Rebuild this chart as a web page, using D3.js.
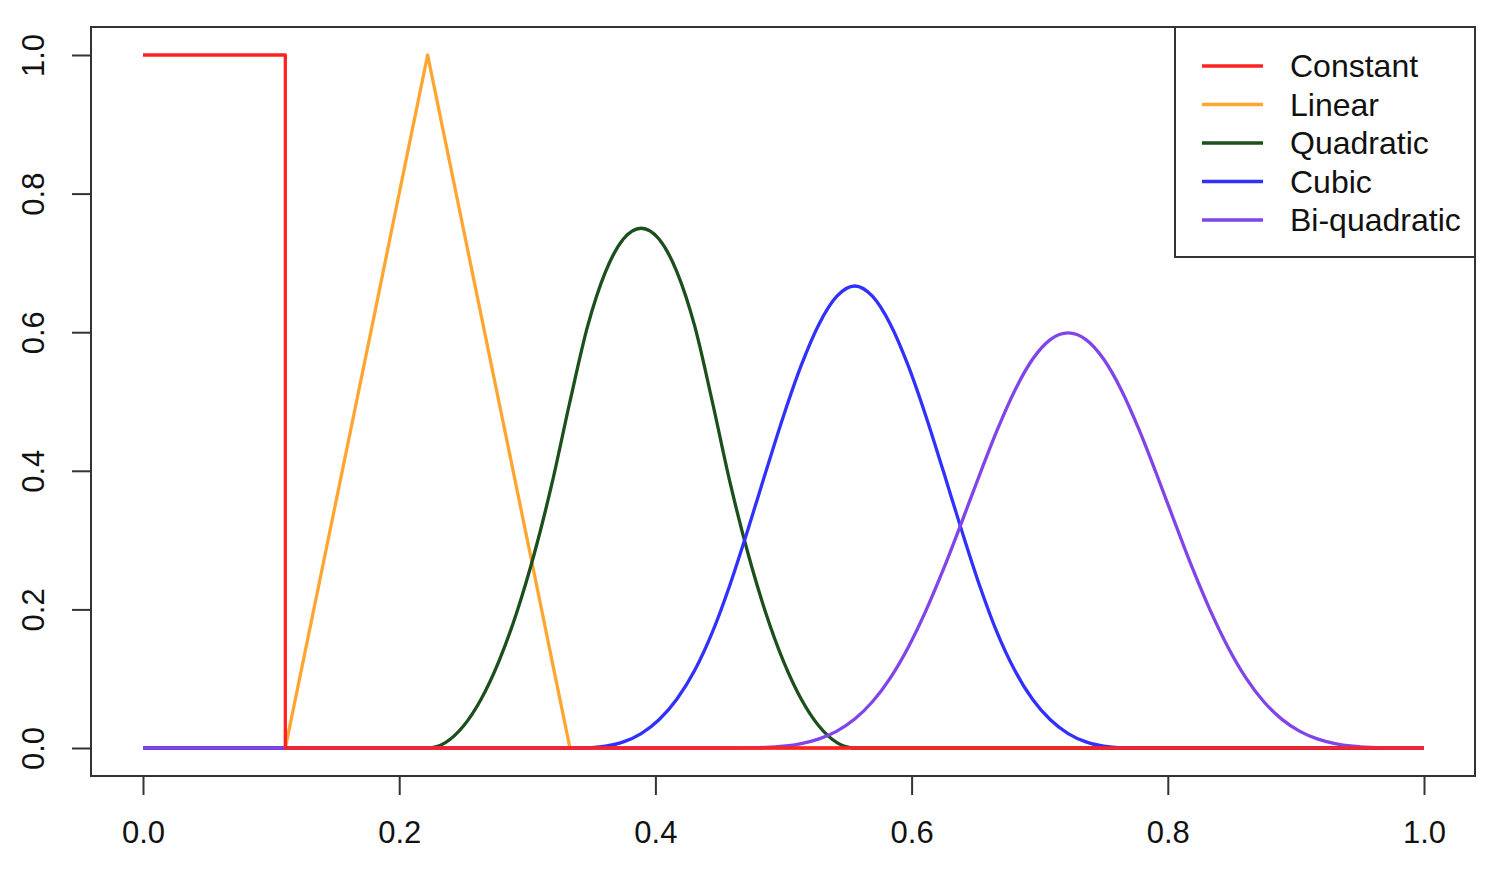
<!DOCTYPE html>
<html>
<head>
<meta charset="utf-8">
<script src="https://cdn.jsdelivr.net/npm/d3@7"></script>
<style>
  html, body { margin: 0; padding: 0; background: #fff; }
  svg { display: block; }
  text { font-family: "Liberation Sans", Arial, sans-serif; fill: #111; }
</style>
</head>
<body>
<svg id="chart" width="1502" height="882"></svg>
<script>
// ---- data (B-spline basis functions, read at x steps of 1/72) ----
const xGrid = [
  0.0000, 0.0139, 0.0278, 0.0417, 0.0556, 0.0694, 0.0833, 0.0972, 0.1111, 0.1250,
  0.1389, 0.1528, 0.1667, 0.1806, 0.1944, 0.2083, 0.2222, 0.2361, 0.2500, 0.2639,
  0.2778, 0.2917, 0.3056, 0.3194, 0.3333, 0.3472, 0.3611, 0.3750, 0.3889, 0.4028,
  0.4167, 0.4306, 0.4444, 0.4583, 0.4722, 0.4861, 0.5000, 0.5139, 0.5278, 0.5417,
  0.5556, 0.5694, 0.5833, 0.5972, 0.6111, 0.6250, 0.6389, 0.6528, 0.6667, 0.6806,
  0.6944, 0.7083, 0.7222, 0.7361, 0.7500, 0.7639, 0.7778, 0.7917, 0.8056, 0.8194,
  0.8333, 0.8472, 0.8611, 0.8750, 0.8889, 0.9028, 0.9167, 0.9306, 0.9444, 0.9583,
  0.9722, 0.9861, 1.0000
];
const constantVals = [
  1, 1, 1, 1, 1, 1, 1, 1, 0, 0,
  0, 0, 0, 0, 0, 0, 0, 0, 0, 0,
  0, 0, 0, 0, 0, 0, 0, 0, 0, 0,
  0, 0, 0, 0, 0, 0, 0, 0, 0, 0,
  0, 0, 0, 0, 0, 0, 0, 0, 0, 0,
  0, 0, 0, 0, 0, 0, 0, 0, 0, 0,
  0, 0, 0, 0, 0, 0, 0, 0, 0, 0,
  0, 0, 0
];
const linearVals = [
  0, 0, 0, 0, 0, 0, 0, 0, 0, 0.125,
  0.25, 0.375, 0.5, 0.625, 0.75, 0.875, 1, 0.875, 0.75, 0.625,
  0.5, 0.375, 0.25, 0.125, 0, 0, 0, 0, 0, 0,
  0, 0, 0, 0, 0, 0, 0, 0, 0, 0,
  0, 0, 0, 0, 0, 0, 0, 0, 0, 0,
  0, 0, 0, 0, 0, 0, 0, 0, 0, 0,
  0, 0, 0, 0, 0, 0, 0, 0, 0, 0,
  0, 0, 0
];
const quadraticVals = [
  0, 0, 0, 0, 0, 0, 0, 0, 0, 0,
  0, 0, 0, 0, 0, 0, 0, 0.0078, 0.0313, 0.0703,
  0.125, 0.1953, 0.2813, 0.3828, 0.5, 0.6094, 0.6875, 0.7344, 0.75, 0.7344,
  0.6875, 0.6094, 0.5, 0.3828, 0.2813, 0.1953, 0.125, 0.0703, 0.0313, 0.0078,
  0, 0, 0, 0, 0, 0, 0, 0, 0, 0,
  0, 0, 0, 0, 0, 0, 0, 0, 0, 0,
  0, 0, 0, 0, 0, 0, 0, 0, 0, 0,
  0, 0, 0
];
const cubicVals = [
  0, 0, 0, 0, 0, 0, 0, 0, 0, 0,
  0, 0, 0, 0, 0, 0, 0, 0, 0, 0,
  0, 0, 0, 0, 0, 0.0003, 0.0026, 0.0088, 0.0208, 0.0407,
  0.0703, 0.1117, 0.1667, 0.2360, 0.3151, 0.3981, 0.4792, 0.5524, 0.6120, 0.6520,
  0.6667, 0.6520, 0.6120, 0.5524, 0.4792, 0.3981, 0.3151, 0.2360, 0.1667, 0.1117,
  0.0703, 0.0407, 0.0208, 0.0088, 0.0026, 0.0003, 0, 0, 0, 0,
  0, 0, 0, 0, 0, 0, 0, 0, 0, 0,
  0, 0, 0
];
const biquadraticVals = [
  0, 0, 0, 0, 0, 0, 0, 0, 0, 0,
  0, 0, 0, 0, 0, 0, 0, 0, 0, 0,
  0, 0, 0, 0, 0, 0, 0, 0, 0, 0,
  0, 0, 0, 0.00001, 0.0002, 0.0008, 0.0026, 0.0064, 0.0132, 0.0244,
  0.0417, 0.0667, 0.1009, 0.1448, 0.1979, 0.2587, 0.3249, 0.3929, 0.4583, 0.5160,
  0.5609, 0.5893, 0.5990, 0.5893, 0.5609, 0.5160, 0.4583, 0.3929, 0.3249, 0.2587,
  0.1979, 0.1448, 0.1009, 0.0667, 0.0417, 0.0244, 0.0132, 0.0064, 0.0026, 0.0008,
  0.0002, 0.00001, 0
];
const seriesNames = ["Constant", "Linear", "Quadratic", "Cubic", "Bi-quadratic"];
const xTicks = [0.0, 0.2, 0.4, 0.6, 0.8, 1.0];
const yTicks = [0.0, 0.2, 0.4, 0.6, 0.8, 1.0];

// ---- styling ----
const colors = {
  "Constant": "#ff2222",
  "Linear": "#ffa530",
  "Quadratic": "#1b4f1b",
  "Cubic": "#3030ff",
  "Bi-quadratic": "#8044e8"
};
const valuesByName = {
  "Constant": constantVals,
  "Linear": linearVals,
  "Quadratic": quadraticVals,
  "Cubic": cubicVals,
  "Bi-quadratic": biquadraticVals
};
const curves = {
  "Constant": d3.curveStepAfter,
  "Linear": d3.curveLinear,
  "Quadratic": d3.curveMonotoneX,
  "Cubic": d3.curveMonotoneX,
  "Bi-quadratic": d3.curveMonotoneX
};

const FONT = 31;
const svg = d3.select("#chart");
const box = { left: 91, right: 1475, top: 27, bottom: 776 };

const x = d3.scaleLinear().domain([0, 1]).range([143, 1424]);
const y = d3.scaleLinear().domain([0, 1]).range([748, 55]);

// lines: draw in order, constant last (on top)
const drawOrder = ["Linear", "Quadratic", "Cubic", "Bi-quadratic", "Constant"];
drawOrder.forEach(name => {
  const vals = valuesByName[name];
  const pts = xGrid.map((xv, i) => [xv, vals[i]]);
  const line = d3.line().x(d => x(d[0])).y(d => y(d[1])).curve(curves[name]);
  svg.append("path")
    .attr("d", line(pts))
    .attr("fill", "none")
    .attr("stroke", colors[name])
    .attr("stroke-width", 3.3)
    .attr("stroke-linejoin", "round");
});

// plot box
svg.append("rect")
  .attr("x", box.left).attr("y", box.top)
  .attr("width", box.right - box.left).attr("height", box.bottom - box.top)
  .attr("fill", "none").attr("stroke", "#333").attr("stroke-width", 2);

// x axis
const xAxis = d3.axisBottom(x).tickValues(xTicks).tickFormat(d3.format(".1f"))
  .tickSize(19).tickPadding(26);
const gx = svg.append("g").attr("transform", `translate(0,${box.bottom})`).call(xAxis);
gx.select(".domain").attr("d", `M${x(0)},0H${x(1)}`).attr("stroke", "#333").attr("stroke-width", 2);
gx.selectAll(".tick line").attr("stroke", "#333").attr("stroke-width", 2);
gx.selectAll(".tick text").attr("font-size", FONT).attr("fill", "#111")
  .attr("font-family", "Liberation Sans, Arial, sans-serif");

// y axis
const yAxis = d3.axisLeft(y).tickValues(yTicks).tickFormat(d3.format(".1f"))
  .tickSize(19).tickPadding(0);
const gy = svg.append("g").attr("transform", `translate(${box.left},0)`).call(yAxis);
gy.select(".domain").attr("d", `M0,${y(0)}V${y(1)}`).attr("stroke", "#333").attr("stroke-width", 2);
gy.selectAll(".tick line").attr("stroke", "#333").attr("stroke-width", 2);
gy.selectAll(".tick text")
  .attr("font-size", FONT).attr("fill", "#111")
  .attr("font-family", "Liberation Sans, Arial, sans-serif")
  .attr("x", null).attr("dy", null)
  .attr("text-anchor", "middle")
  .attr("dominant-baseline", "central")
  .attr("transform", "translate(-58,0) rotate(-90)");

// legend
const lg = svg.append("g");
lg.append("rect")
  .attr("x", 1175).attr("y", box.top).attr("width", box.right - 1175).attr("height", 257 - box.top)
  .attr("fill", "#fff").attr("stroke", "#333").attr("stroke-width", 2);
const legY = d3.scalePoint().domain(seriesNames).range([66, 220]);
seriesNames.forEach(name => {
  lg.append("line")
    .attr("x1", 1202).attr("x2", 1263)
    .attr("y1", legY(name)).attr("y2", legY(name))
    .attr("stroke", colors[name]).attr("stroke-width", 3.3);
  lg.append("text")
    .attr("x", 1290).attr("y", legY(name))
    .attr("dominant-baseline", "central")
    .attr("font-size", 32)
    .text(name);
});
</script>
</body>
</html>
